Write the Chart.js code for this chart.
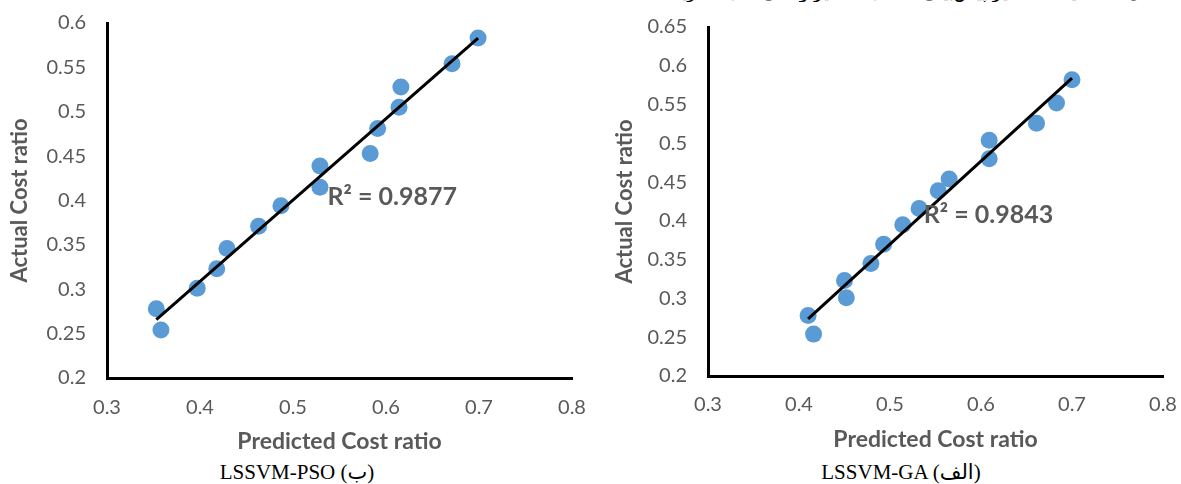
<!DOCTYPE html>
<html>
<head>
<meta charset="utf-8">
<script src="https://cdn.jsdelivr.net/npm/chart.js@4.4.1/dist/chart.umd.min.js"></script>
<style>
  html, body { margin: 0; padding: 0; background: #fff; }
  body { width: 1181px; height: 484px; overflow: hidden; position: relative; }
  .panel { position: absolute; top: 0; }
  #panelPso { left: 0; }
  #panelGa { left: 600px; }
  .caption { position: absolute; top: 460px; font: 21px "Liberation Serif", "DejaVu Sans", serif; color: #000; white-space: nowrap; transform: translateX(-50%); }
  .heading { position: absolute; top: -19px; right: 14px; width: 505px; overflow: hidden; direction: rtl; font: 18px "DejaVu Sans", sans-serif; color: #000; white-space: nowrap; }
</style>
</head>
<body>
<div class="heading">شکل ۵- مقایسه مقادیر پیش‌بینی شده با مقادیر واقعی نسبت هزینه برای دو مدل ترکیبی پیشنهادی در این پژوهش</div>
<div class="panel" id="panelPso"><canvas id="chartPso" width="600" height="460"></canvas></div>
<div class="panel" id="panelGa"><canvas id="chartGa" width="581" height="460"></canvas></div>
<div class="caption" id="capPso" style="left:297px"></div>
<div class="caption" id="capGa" style="left:901px"></div>
<script>
// Axis tick values
const xTicks = [0.3, 0.4, 0.5, 0.6, 0.7, 0.8];
const yTicksPso = [0.2, 0.25, 0.3, 0.35, 0.4, 0.45, 0.5, 0.55, 0.6];
const yTicksGa = [0.2, 0.25, 0.3, 0.35, 0.4, 0.45, 0.5, 0.55, 0.6, 0.65];

// LSSVM-PSO: predicted vs actual cost ratio
const psoPredicted = [0.353, 0.358, 0.397, 0.418, 0.429, 0.463, 0.487, 0.529, 0.529, 0.583, 0.591, 0.614, 0.616, 0.671, 0.699];
const psoActual    = [0.278, 0.254, 0.301, 0.323, 0.346, 0.371, 0.394, 0.415, 0.439, 0.453, 0.481, 0.505, 0.528, 0.554, 0.583];

// LSSVM-GA: predicted vs actual cost ratio
const gaPredicted = [0.410, 0.416, 0.450, 0.452, 0.479, 0.493, 0.514, 0.532, 0.553, 0.565, 0.609, 0.609, 0.661, 0.683, 0.700];
const gaActual    = [0.278, 0.254, 0.323, 0.301, 0.345, 0.370, 0.395, 0.416, 0.439, 0.454, 0.480, 0.504, 0.526, 0.552, 0.582];

const psoR2Text = 'R² = 0.9877';
const gaR2Text = 'R² = 0.9843';
const xTitle = 'Predicted Cost ratio';
const yTitle = 'Actual Cost ratio';
const psoCaption = 'LSSVM-PSO (ب)';
const gaCaption = 'LSSVM-GA (الف)';

document.getElementById('capPso').textContent = psoCaption;
document.getElementById('capGa').textContent = gaCaption;

// Least-squares linear trend line over the data range
function trendLine(xs, ys) {
  const n = xs.length;
  const mx = xs.reduce((a, b) => a + b, 0) / n;
  const my = ys.reduce((a, b) => a + b, 0) / n;
  let sxy = 0, sxx = 0;
  for (let i = 0; i < n; i++) { sxy += (xs[i] - mx) * (ys[i] - my); sxx += (xs[i] - mx) ** 2; }
  const b = sxy / sxx, a = my - b * mx;
  const x0 = Math.min(...xs), x1 = Math.max(...xs);
  return [{ x: x0, y: a + b * x0 }, { x: x1, y: a + b * x1 }];
}

const GRAY = '#595959';
const BLUE = '#5B9BD5';

// Draws the R² annotation at a point given in data units
const r2Plugin = {
  id: 'r2Label',
  afterDatasetsDraw(chart, args, opts) {
    const { ctx, scales } = chart;
    ctx.save();
    ctx.font = 'bold 25px Lato, sans-serif';
    ctx.fillStyle = GRAY;
    ctx.textAlign = 'left';
    ctx.textBaseline = 'middle';
    ctx.fillText(opts.text, scales.x.getPixelForValue(opts.x), scales.y.getPixelForValue(opts.y));
    ctx.restore();
  }
};

function makeChart(id, xs, ys, yTicks, g) {
  const canvas = document.getElementById(id);
  const W = canvas.width, H = canvas.height;
  const points = xs.map((x, i) => ({ x, y: ys[i] }));
  return new Chart(canvas, {
    type: 'scatter',
    data: {
      datasets: [
        { type: 'line', data: trendLine(xs, ys), borderColor: '#000', borderWidth: 3, pointRadius: 0, fill: false },
        { data: points, backgroundColor: BLUE, borderWidth: 0, pointRadius: 8.5, pointHoverRadius: 8.5 }
      ]
    },
    options: {
      responsive: false,
      animation: false,
      events: [],
      layout: { padding: { top: g.top, right: W - g.right, left: 0, bottom: 0 } },
      plugins: {
        legend: { display: false },
        tooltip: { enabled: false },
        r2Label: { text: g.r2Text, x: g.r2x, y: g.r2y }
      },
      scales: {
        x: {
          type: 'linear', min: xTicks[0], max: xTicks[xTicks.length - 1],
          grid: { display: false, drawTicks: false },
          border: { display: true, color: '#000', width: 3 },
          afterBuildTicks: s => { s.ticks = xTicks.map(v => ({ value: v })); },
          afterFit: s => { s.height = H - g.bottom; s.paddingLeft = s.paddingRight = 0; },
          ticks: { padding: g.xTickPad, color: GRAY, font: { family: 'Lato', size: 20 }, callback: (v, i) => String(xTicks[i]) },
          title: { display: true, text: xTitle, color: GRAY, font: { family: 'Lato', size: 23, weight: 'bold' }, padding: { top: 0, bottom: g.xTitlePad } }
        },
        y: {
          type: 'linear', min: yTicks[0], max: yTicks[yTicks.length - 1],
          grid: { display: false, drawTicks: false },
          border: { display: true, color: '#000', width: 3 },
          afterBuildTicks: s => { s.ticks = yTicks.map(v => ({ value: v })); },
          afterFit: s => { s.width = g.left; s.paddingTop = s.paddingBottom = 0; },
          ticks: { padding: 21, color: GRAY, font: { family: 'Lato', size: 20 }, callback: (v, i) => String(yTicks[i]) },
          title: { display: true, text: yTitle, color: GRAY, font: { family: 'Lato', size: 22, weight: 'bold' }, padding: { top: g.yTitlePad, bottom: 0 } }
        }
      }
    },
    plugins: [r2Plugin]
  });
}

makeChart('chartPso', psoPredicted, psoActual, yTicksPso, {
  left: 107, right: 572, top: 23, bottom: 378,
  xTickPad: 18, xTitlePad: 5, yTitlePad: 7,
  r2Text: psoR2Text, r2x: 0.537, r2y: 0.404
});
makeChart('chartGa', gaPredicted, gaActual, yTicksGa, {
  left: 108, right: 563, top: 27, bottom: 376,
  xTickPad: 17, xTitlePad: 7, yTitlePad: 12,
  r2Text: gaR2Text, r2x: 0.537, r2y: 0.4075
});
</script>
</body>
</html>
